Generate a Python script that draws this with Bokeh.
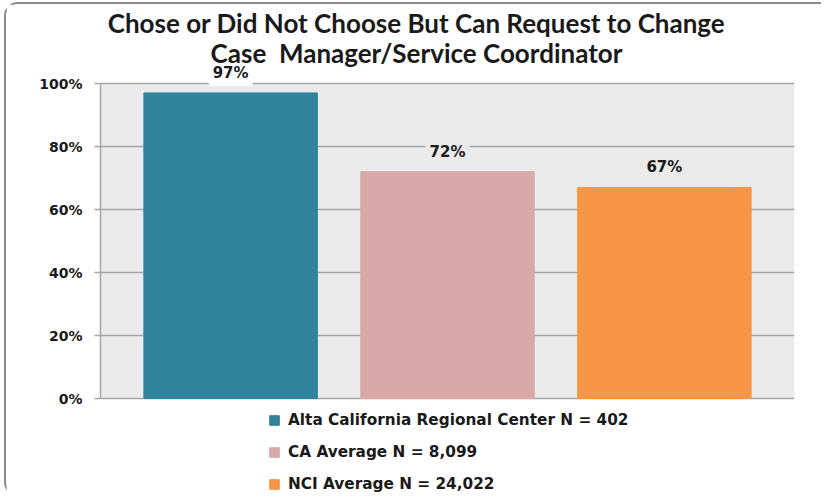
from bokeh.plotting import figure
from bokeh.models import (ColumnDataSource, Legend, LegendItem, Label, BoxAnnotation,
                          NumeralTickFormatter, FixedTicker, Range1d)
from bokeh.embed import file_html
from bokeh.resources import INLINE

# ---- data ----
series = ["Alta California Regional Center N = 402", "CA Average N = 8,099", "NCI Average N = 24,022"]
values = [97, 72, 67]
value_labels = ["97%", "72%", "67%"]
colors = ["#31849b", "#d9a9aa", "#f79646"]
label_bg = ["#ffffff", "#ebebeb", "#ebebeb"]
y_ticks = [0, 20, 40, 60, 80, 100]
title_line1 = "Chose or Did Not Choose But Can Request to Change"
title_line2 = "Case\u00a0 Manager/Service Coordinator"

# ---- layout helpers (page pixels -> data) ----
PX_PER_UNIT_Y = 315.0      # pixels for 0..100 %
Y0_PAGE = 398.0            # page y of 0 %
FRAME_TOP, FRAME_BOTTOM = 4.0, 496.0
FRAME_LEFT, FRAME_W = 100.0, 694.0
X_LO, X_HI = 0.4, 3.6

def ydata(py):
    return (Y0_PAGE - py) / PX_PER_UNIT_Y

def xdata(px):
    return X_LO + (px - FRAME_LEFT) * (X_HI - X_LO) / FRAME_W

xs = [i + 1 for i in range(len(values))]
src = ColumnDataSource(dict(x=xs, top=[v / 100 for v in values], color=colors, name=series))

p = figure(frame_width=int(FRAME_W), frame_height=int(FRAME_BOTTOM - FRAME_TOP),
           output_backend="svg", toolbar_location=None,
           x_range=Range1d(X_LO, X_HI), y_range=Range1d(ydata(FRAME_BOTTOM), ydata(FRAME_TOP)))
p.min_border_left = 94
p.min_border_right = 27
p.min_border_top = 0
p.min_border_bottom = 0
p.background_fill_color = "#ffffff"
p.border_fill_color = "#ffffff"
p.outline_line_color = None
p.styles = {"border-left": "2px solid #8a8a8a", "border-top": "2px solid #8a8a8a",
            "border-top-left-radius": "14px", "border-bottom-left-radius": "14px",
            "margin-left": "4px", "margin-top": "2px"}

# grey plotting area 0..100 %
p.add_layout(BoxAnnotation(bottom=0, top=1.0, fill_color="#ebebeb", fill_alpha=1.0,
                           line_color=None, level="image"))

r = p.vbar(x="x", top="top", width=0.8, color="color", source=src)

# value labels
for x, v, txt, bg in zip(xs, values, value_labels, label_bg):
    p.add_layout(Label(x=x, y=v / 100, text=txt, text_align="center", text_baseline="bottom",
                       y_offset=7, text_font="DejaVu Sans", text_font_style="bold",
                       text_font_size="15px", text_color="#1a1a1a",
                       background_fill_color=bg, padding=4))

# titles
for txt, py in [(title_line1, 22), (title_line2, 52)]:
    p.add_layout(Label(x=xdata(416), y=ydata(py), text=txt, text_align="center",
                       text_baseline="alphabetic", text_font="Lato", text_font_size="26px",
                       text_font_style="bold", text_color="#1a1a1a"))

# axes
p.xaxis.visible = False
p.xgrid.visible = False
yax = p.yaxis[0]
yax.bounds = (0, 1)
yax.ticker = FixedTicker(ticks=[t / 100 for t in y_ticks])
yax.formatter = NumeralTickFormatter(format="0%")
yax.major_label_text_font = "DejaVu Sans"
yax.major_label_text_font_style = "bold"
yax.major_label_text_font_size = "14px"
yax.major_label_text_color = "#1a1a1a"
yax.axis_line_color = "#a6a6a6"
yax.axis_line_width = 1.5
yax.major_tick_line_color = "#a6a6a6"
yax.major_tick_line_width = 1.5
yax.major_tick_out = 6
yax.major_tick_in = 0
yax.minor_tick_line_color = None
yax.major_label_standoff = 12
p.ygrid.ticker = FixedTicker(ticks=[t / 100 for t in y_ticks])
p.ygrid.grid_line_color = "#a6a6a6"
p.ygrid.grid_line_width = 1.5

# legend
items = [LegendItem(label=s, renderers=[r], index=i) for i, s in enumerate(series)]
leg = Legend(items=items, location=(168, 3), orientation="vertical",
             label_text_font="DejaVu Sans", label_text_font_style="bold",
             label_text_font_size="15.3px", label_text_color="#1a1a1a",
             glyph_width=12, glyph_height=12, label_height=17, spacing=14,
             padding=0, margin=0, label_standoff=8,
             border_line_color=None, background_fill_alpha=0)
p.add_layout(leg, "center")

open("out.html", "w").write(file_html(p, INLINE))
